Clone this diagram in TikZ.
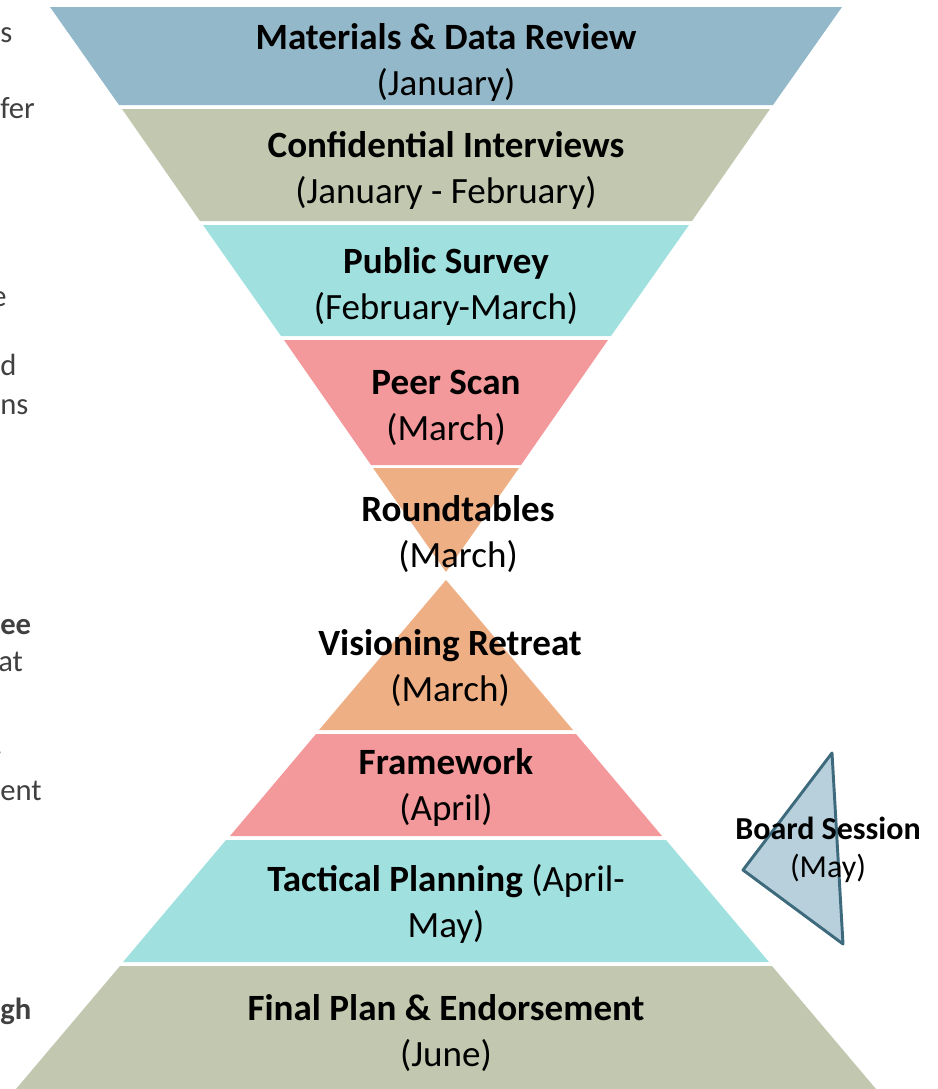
\documentclass[tikz,border=0pt]{standalone}
\usepackage{fontspec}
\setmainfont{Carlito}
\definecolor{bandblue}{HTML}{93B8CA}
\definecolor{bandsage}{HTML}{C2C8B0}
\definecolor{bandcyan}{HTML}{A0E1E0}
\definecolor{bandpink}{HTML}{F3989B}
\definecolor{bandpeach}{HTML}{EFAF84}
\definecolor{boardfill}{HTML}{B8D0DB}
\definecolor{boardline}{HTML}{3D6A7C}
\definecolor{sidegray}{HTML}{404040}
\tikzset{
  steplbl/.style={align=center, inner sep=0pt, font=\fontsize{27.8}{34.5}\selectfont},
  boardlbl/.style={align=center, inner sep=0pt, font=\fontsize{24}{28.5}\selectfont},
  sidetxt/.style={anchor=mid west, inner sep=0pt, text=sidegray, font=\fontsize{23}{27}\selectfont},
}
\begin{document}
\begin{tikzpicture}[x=0.75pt,y=0.75pt,yscale=-1,xscale=1]
\useasboundingbox (0,0) rectangle (938,1089);

%Side text
\node[sidetxt] (s1) at (0,39) {s};
\node[sidetxt] (s2) at (0,115) {fer};
\node[sidetxt, anchor=mid east] (s3) at (7,303) {e};
\node[sidetxt] (s4) at (0,372) {d};
\node[sidetxt] (s5) at (0,411) {ns};
\node[sidetxt, font=\fontsize{23}{27}\selectfont\bfseries] (s6) at (0,631) {ee};
\node[sidetxt] (s7) at (-2,668) {at};
\node[sidetxt, anchor=mid east] (s8) at (3,751) {.};
\node[sidetxt] (s9) at (0,797) {ent};
\node[sidetxt, font=\fontsize{23}{27}\selectfont\bfseries] (s10) at (0,1016) {gh};

%Funnel band 1
\fill[bandblue] (50,7) -- (842,7) -- (773,105) -- (119,105) -- cycle;
%Funnel band 2
\fill[bandsage] (122,109) -- (770,109) -- (692,221) -- (200,221) -- cycle;
%Funnel band 3
\fill[bandcyan] (203,225) -- (689,225) -- (611,336) -- (281,336) -- cycle;
%Funnel band 4
\fill[bandpink] (284,340) -- (608,340) -- (521,465) -- (371,465) -- cycle;
%Funnel tip
\fill[bandpeach] (373,468) -- (519,468) -- (446,572) -- cycle;

%Pyramid tip
\fill[bandpeach] (446,580) -- (573,730) -- (319,730) -- cycle;
%Pyramid band 2
\fill[bandpink] (316,734) -- (576,734) -- (662,836) -- (230,836) -- cycle;
%Pyramid band 3
\fill[bandcyan] (226,840) -- (666,840) -- (769,962) -- (123,962) -- cycle;
%Pyramid band 4
\fill[bandsage] (120,966) -- (772,966) -- (876,1089) -- (16,1089) -- cycle;

%Board triangle
\draw[boardline, fill=boardfill, line width=2.2pt, line join=round] (832,753) -- (743,870) -- (843,944) -- cycle;

%Labels
\node[steplbl] (review) at (446,62) {\textbf{Materials \& Data Review}\\(January)};
\node[steplbl] (interviews) at (446,170) {\textbf{Confidential Interviews}\\(January - February)};
\node[steplbl] (survey) at (446,286) {\textbf{Public Survey}\\(February-March)};
\node[steplbl] (peer) at (446,408) {\textbf{Peer Scan}\\(March)};
\node[steplbl] (round) at (458,534) {\textbf{Roundtables}\\(March)};
\node[steplbl] (retreat) at (450,668) {\textbf{Visioning Retreat}\\(March)};
\node[steplbl] (frame) at (446,787) {\textbf{Framework}\\(April)};
\node[steplbl] (tactical) at (446,904) {\textbf{Tactical Planning} (April-\\May)};
\node[steplbl] (final) at (446,1033) {\textbf{Final Plan \& Endorsement}\\(June)};
\node[boardlbl] (board) at (828,850) {\textbf{Board Session}\\(May)};

\end{tikzpicture}
\end{document}
